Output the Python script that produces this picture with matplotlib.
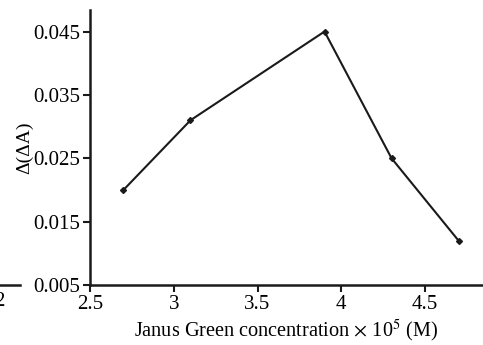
import matplotlib
matplotlib.use("Agg")
import matplotlib.pyplot as plt
from matplotlib.lines import Line2D

# dados
concentracao = [2.7, 3.1, 3.9, 4.3, 4.7]
delta_abs = [0.020, 0.031, 0.045, 0.025, 0.012]
xticks = [2.5, 3, 3.5, 4, 4.5]
xtick_labels = ["2.5", "3", "3.5", "4", "4.5"]
yticks = [0.005, 0.015, 0.025, 0.035, 0.045]
ytick_labels = ["0.005", "0.015", "0.025", "0.035", "0.045"]

plt.rcParams['font.family'] = ['Liberation Serif', 'DejaVu Serif']
plt.rcParams['mathtext.fontset'] = 'stix'

fig = plt.figure(figsize=(4.83, 3.45), dpi=100)
ax = fig.add_axes([0.1863, 0.174, 0.8137, 0.797])

ax.plot(concentracao, delta_abs, color='#1a1a1a', lw=1.5, marker='D', ms=3)

ax.set_xlim(2.5, 4.846)
ax.set_ylim(0.005, 0.0484)
ax.set_xticks(xticks)
ax.set_xticklabels(xtick_labels)
ax.set_yticks(yticks)
ax.set_yticklabels(ytick_labels)
ax.tick_params(labelsize=15, length=5, width=1.5, color='#1a1a1a', pad=2)

for lado in ['top', 'right']:
    ax.spines[lado].set_visible(False)
for lado in ['left', 'bottom']:
    ax.spines[lado].set_linewidth(1.8)
    ax.spines[lado].set_color('#1a1a1a')

ax.set_xlabel(r'Janus Green concentration $\times$ 10$^5$ (M)', fontsize=14.6, labelpad=3)
ax.set_ylabel(r'Δ(ΔA)', fontsize=14, labelpad=0)

# restos do painel vizinho
fig.add_artist(Line2D([0, 0.042], [0.174, 0.174], color='#1a1a1a', lw=1.8))
fig.text(-0.012, 0.155, '2', fontsize=15, va='top', ha='left')

fig.savefig('out.png', dpi=100)
